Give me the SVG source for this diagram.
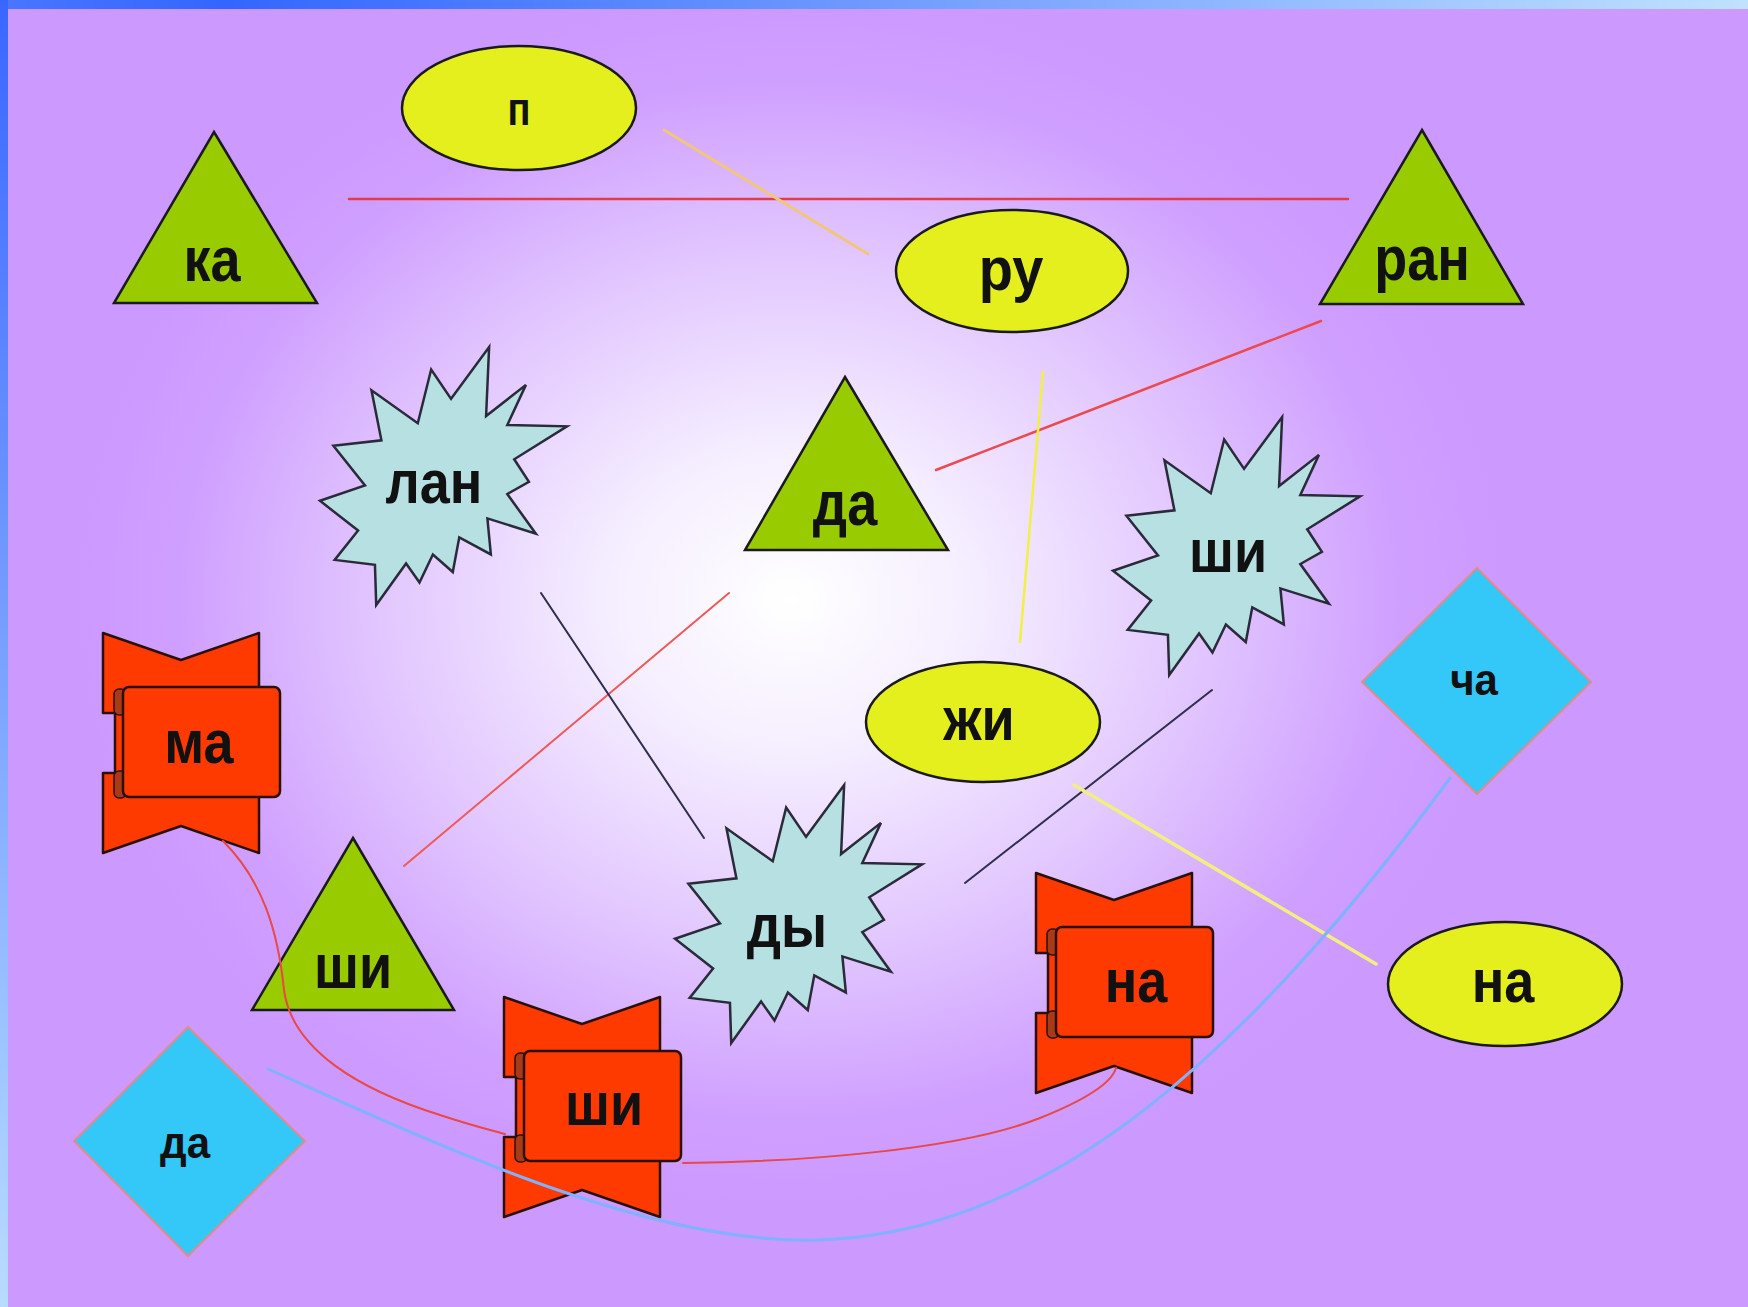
<svg xmlns="http://www.w3.org/2000/svg" xmlns:xlink="http://www.w3.org/1999/xlink" width="1748" height="1307" viewBox="0 0 1748 1307">
<defs>
<radialGradient id="glow" gradientUnits="userSpaceOnUse" cx="790" cy="600" r="720" gradientTransform="translate(790 600) scale(1 0.85) translate(-790 -600)">
<stop offset="0" stop-color="#ffffff"/>
<stop offset="0.25" stop-color="#f5eeff"/>
<stop offset="0.55" stop-color="#e3c9ff"/>
<stop offset="0.85" stop-color="#cf9fff"/>
<stop offset="1" stop-color="#cc99ff"/>
</radialGradient>
<linearGradient id="topband" x1="0" y1="0" x2="1" y2="0">
<stop offset="0" stop-color="#4a76ff"/>
<stop offset="0.13" stop-color="#3366ff"/>
<stop offset="1" stop-color="#c0e2ff"/>
</linearGradient>
<linearGradient id="leftband" x1="0" y1="0" x2="0" y2="1">
<stop offset="0" stop-color="#3a66ff"/>
<stop offset="1" stop-color="#b8dcff"/>
</linearGradient>
<path id="seal" vector-effect="non-scaling-stroke" fill="#b6e0e2" stroke="#2a2a3a" stroke-width="2.5" stroke-linejoin="miter" d="M11462,4342 L14790,0 L14525,5777 L18007,3172 L16380,6532 L21600,6645 L16985,9402 L18270,11290 L16380,12310 L18877,15632 L14640,14350 L14942,17370 L12180,15935 L11612,18842 L9872,17370 L8700,19712 L7527,18125 L4917,21600 L4805,18240 L1285,17825 L3330,15370 L0,12877 L3935,11592 L1172,8270 L5372,7817 L4502,3625 L8550,6382 L9722,1887 Z"/>
<g id="ribbon">
<path class="rb" d="M0,0 L78,27 L156,0 L156,220 L78,193 L0,220 L0,140 L12,140 L12,80 L0,80 Z"/>
<rect class="curl" x="11" y="56" width="12" height="26" rx="5"/>
<rect class="curl" x="11" y="138" width="12" height="27" rx="5"/>
<rect class="rb" x="20" y="54" width="157" height="110" rx="6"/>
</g>
<style>
.lbl{font-family:"Liberation Sans",Arial,sans-serif;font-weight:bold;fill:#111;text-anchor:middle}
.tri{fill:#99cc00;stroke:#1a1a1a;stroke-width:2.5;stroke-linejoin:miter}
.ell{fill:#e6ef1e;stroke:#1a1a1a;stroke-width:2.5}
.dia{fill:#33c8f8;stroke:#e48a8a;stroke-width:2}
.rb{fill:#ff3a00;stroke:#2a1008;stroke-width:2.5;stroke-linejoin:round}
.curl{fill:#a83a18;stroke:#2a1008;stroke-width:1.5}
.ln{fill:none;stroke-linecap:round}
</style>
</defs>

<rect x="0" y="0" width="1748" height="1307" fill="#cc99ff"/>
<rect x="0" y="0" width="1748" height="1307" fill="url(#glow)"/>
<rect x="0" y="0" width="1748" height="9" fill="url(#topband)"/>
<rect x="0" y="0" width="8" height="1307" fill="url(#leftband)"/>

<g id="node-ka">
<polygon class="tri" points="214,132 317,303 114,303"/>
<text class="lbl" font-size="54" transform="translate(212,281) scale(1,1.15)">ка</text>
</g>
<g id="node-p">
<ellipse class="ell" cx="519" cy="108" rx="117" ry="62"/>
<text class="lbl" font-size="38" transform="translate(519,125) scale(1,1.2)">п</text>
</g>
<g id="node-ru">
<ellipse class="ell" cx="1012" cy="271" rx="116" ry="61"/>
<text class="lbl" font-size="56" transform="translate(1011,290) scale(1,1.1)">ру</text>
</g>
<g id="node-ran">
<polygon class="tri" points="1422,130 1523,304 1320,304"/>
<text class="lbl" font-size="54" transform="translate(1422,280) scale(1,1.15)">ран</text>
</g>
<g id="node-lan">
<use xlink:href="#seal" transform="translate(320,347) scale(0.011435,0.011944)"/>
<text class="lbl" font-size="54" transform="translate(434,503) scale(1,1.12)">лан</text>
</g>
<g id="node-da-tri">
<polygon class="tri" points="845,377 948,550 745,550"/>
<text class="lbl" font-size="54" transform="translate(845,525) scale(1,1.15)">да</text>
</g>
<g id="node-shi-star">
<use xlink:href="#seal" transform="translate(1113,417) scale(0.011435,0.011944)"/>
<text class="lbl" font-size="54" transform="translate(1228,572) scale(1,1.12)">ши</text>
</g>
<g id="node-zhi">
<ellipse class="ell" cx="983" cy="722" rx="117" ry="60"/>
<text class="lbl" font-size="54" transform="translate(979,740) scale(1,1.12)">жи</text>
</g>
<g id="node-cha">
<polygon class="dia" points="1477,568 1591,682 1477,794 1362,682"/>
<text class="lbl" font-size="42" transform="translate(1474,695) scale(1,1.05)">ча</text>
</g>
<g id="node-ma">
<use xlink:href="#ribbon" transform="translate(103,633)"/>
<text class="lbl" font-size="54" transform="translate(199,763) scale(1,1.12)">ма</text>
</g>
<g id="node-shi-tri">
<polygon class="tri" points="353,838 454,1010 252,1010"/>
<text class="lbl" font-size="54" transform="translate(353,988) scale(1,1.15)">ши</text>
</g>
<g id="node-dy">
<use xlink:href="#seal" transform="translate(675,785) scale(0.011435,0.011944)"/>
<text class="lbl" font-size="54" transform="translate(787,947) scale(1,1.12)">ды</text>
</g>
<g id="node-na-ribbon">
<use xlink:href="#ribbon" transform="translate(1036,873)"/>
<text class="lbl" font-size="54" transform="translate(1136,1002) scale(1,1.12)">на</text>
</g>
<g id="node-na-ell">
<ellipse class="ell" cx="1505" cy="984" rx="117" ry="62"/>
<text class="lbl" font-size="54" transform="translate(1503,1002) scale(1,1.12)">на</text>
</g>
<g id="node-shi-ribbon">
<use xlink:href="#ribbon" transform="translate(504,997)"/>
<text class="lbl" font-size="54" transform="translate(604,1125) scale(1,1.12)">ши</text>
</g>
<g id="node-da-dia">
<polygon class="dia" points="188,1027 305,1141 188,1256 74,1141"/>
<text class="lbl" font-size="42" transform="translate(185,1158) scale(1,1.05)">да</text>
</g>

<g id="connectors">
<line class="ln" x1="349" y1="199" x2="1348" y2="199" stroke="#e23c4c" stroke-width="2.5"/>
<line class="ln" x1="664" y1="130" x2="868" y2="254" stroke="#f2c67a" stroke-width="3"/>
<line class="ln" x1="1321" y1="321" x2="936" y2="470" stroke="#ea4a50" stroke-width="2.5"/>
<line class="ln" x1="1043" y1="372" x2="1020" y2="642" stroke="#f2f040" stroke-width="2.5"/>
<line class="ln" x1="729" y1="593" x2="404" y2="866" stroke="#ee5a5a" stroke-width="2"/>
<line class="ln" x1="541" y1="593" x2="704" y2="838" stroke="#2e2e4e" stroke-width="2"/>
<line class="ln" x1="1212" y1="690" x2="965" y2="883" stroke="#2e2e4e" stroke-width="2"/>
<line class="ln" x1="1074" y1="785" x2="1376" y2="964" stroke="#f2ee80" stroke-width="3.5"/>
<path class="ln" d="M223,841 C262,880 278,930 284,990 C292,1050 360,1090 440,1115 C470,1125 490,1130 505,1134" stroke="#e84848" stroke-width="2"/>
<path class="ln" d="M683,1163 C800,1162 960,1150 1040,1118 C1090,1098 1112,1082 1116,1068" stroke="#e84848" stroke-width="2"/>
<path class="ln" d="M268,1069 C450,1150 650,1245 820,1240 C1050,1233 1250,1050 1450,778" stroke="#7fb2ff" stroke-width="3"/>
</g>
</svg>
